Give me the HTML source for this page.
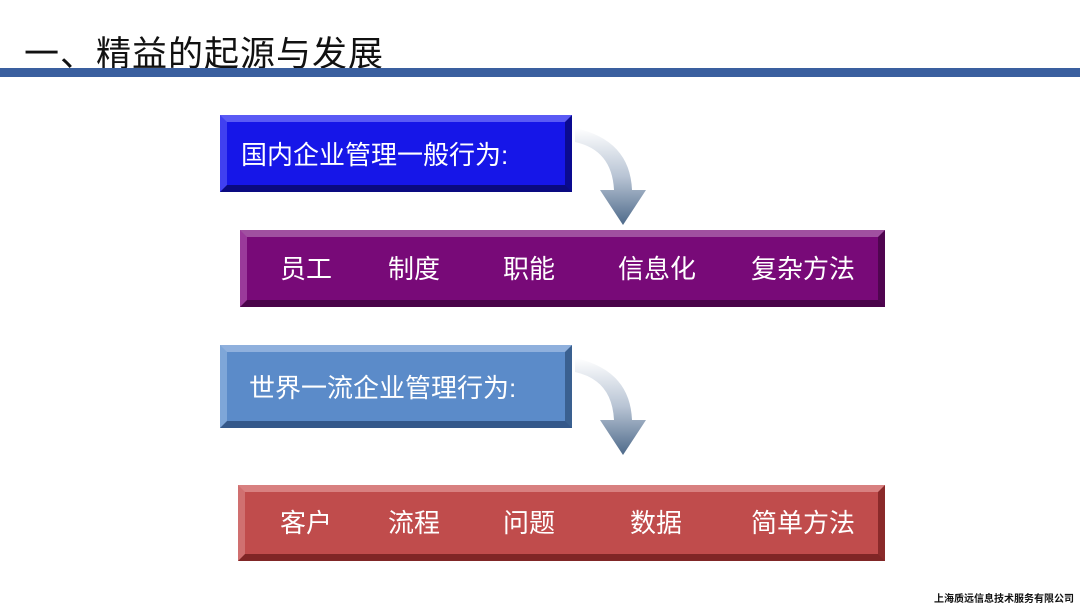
<!DOCTYPE html>
<html><head><meta charset="utf-8"><style>
body{margin:0;width:1080px;height:607px;background:#fff;position:relative;overflow:hidden;font-family:"Liberation Sans","Noto Sans CJK SC",sans-serif}
.t{position:absolute;left:24px;top:26px;font-size:35px;color:#111;letter-spacing:1px}
.line{position:absolute;left:0;top:68px;width:1080px;height:9px;background:#3a5f9f}
.b{position:absolute;box-sizing:border-box;border-style:solid;border-width:7px;color:#fff;font-size:26px;display:flex;align-items:center}
.s{position:absolute;color:#fff;font-size:26px;line-height:30px}
.f{position:absolute;right:6px;top:590px;font-size:10px;font-weight:bold;color:#111}
</style></head><body>
<div class="t">一、精益的起源与发展</div>
<div class="line"></div>
<svg width="1080" height="607" style="position:absolute;left:0;top:0">
<defs><linearGradient id="g" x1="0" y1="0" x2="0" y2="1"><stop offset="0" stop-color="#fff"/><stop offset="0.5" stop-color="#b8c4d4"/><stop offset="1" stop-color="#4e6a8a"/></linearGradient></defs>
<path d="M575 128 Q630 140 632 190 L646 190 L623 225 L600 190 L614 190 Q612 150 575 142 Z" fill="url(#g)"/>
<path d="M575 358 Q630 370 632 420 L646 420 L623 455 L600 420 L614 420 Q612 380 575 372 Z" fill="url(#g)"/>
</svg>
<div class="b" style="left:220px;top:115px;width:352px;height:77px;background:#1616e8;border-color:#5a5af5 #0a0a90 #0a0a80 #4040f0;padding-left:14px">国内企业管理一般行为:</div>
<div class="b" style="left:240px;top:230px;width:645px;height:77px;background:#780a78;border-color:#a050a0 #500550 #4a044a #9a3a9a"></div>
<div class="s" style="left:280px;top:254px">员工</div>
<div class="s" style="left:388px;top:254px">制度</div>
<div class="s" style="left:503px;top:254px">职能</div>
<div class="s" style="left:618px;top:254px">信息化</div>
<div class="s" style="left:751px;top:254px">复杂方法</div>
<div class="b" style="left:220px;top:345px;width:352px;height:83px;background:#5b8bc9;border-color:#8fb0dd #3a6090 #34588a #7ea6d8;padding-left:22px">世界一流企业管理行为:</div>
<div class="b" style="left:238px;top:485px;width:647px;height:76px;background:#c04c4c;border-color:#d88080 #8a2a2a #802626 #d07070"></div>
<div class="s" style="left:280px;top:508px">客户</div>
<div class="s" style="left:388px;top:508px">流程</div>
<div class="s" style="left:503px;top:508px">问题</div>
<div class="s" style="left:630px;top:508px">数据</div>
<div class="s" style="left:751px;top:508px">简单方法</div>
<div class="f">上海质远信息技术服务有限公司</div>
</body></html>
